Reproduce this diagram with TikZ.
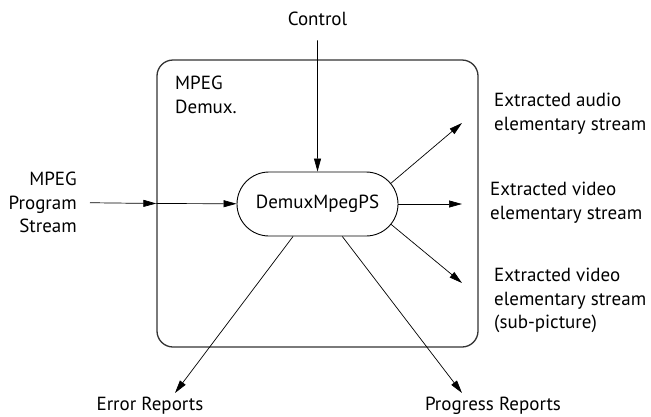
\documentclass[tikz,border=0pt]{standalone}
\usepackage{fontspec}
\setmainfont{PT Sans}
\usetikzlibrary{arrows.meta, shapes.misc, calc}

\begin{document}
\begin{tikzpicture}[x = 1pt, y = -1pt, >={Triangle[length=13pt, width=7pt]},
    every node/.style = {font=\fontsize{19}{23.5}\selectfont},
    txt/.style = {inner sep=0pt},
    arr/.style = {->, line width=0.7pt}]
  \useasboundingbox (0,0) rectangle (651,416);

  \node[draw=black!80, line width=1.3pt, rounded corners=16pt, inner sep=0pt,
        minimum width=321pt, minimum height=287pt] (box) at (317.5,203.5) {};
  \node[txt, anchor=north west, align=left] (title) at (175,76) {MPEG\\Demux.};
  \node[draw, rounded rectangle, line width=0.9pt, inner sep=0pt,
        minimum width=161pt, minimum height=64pt] (demux) at (317.5,204) {DemuxMpegPS};

  \node[txt, anchor=base] (ctrl) at (317.5,25) {Control};
  \node[txt, anchor=north east, align=right] (prog) at (77,172) {MPEG\\Program\\Stream};
  \node[txt, anchor=north west, align=left] (audio) at (494,93) {Extracted audio\\elementary stream};
  \node[txt, anchor=north west, align=left] (video) at (490,182) {Extracted video\\elementary stream};
  \node[txt, anchor=north west, align=left] (subpic) at (494,268) {Extracted video\\elementary stream\\(sub-picture)};
  \node[txt, anchor=base] (err) at (150,410) {Error Reports};
  \node[txt, anchor=base] (progress) at (493,410) {Progress Reports};

  % free ends of the outgoing arrows
  \coordinate (audend) at (462,123);
  \coordinate (vidend) at (462,204);
  \coordinate (subend) at (462,283);
  \coordinate (errend) at (175,393);
  \coordinate (progend) at (462,393);
  \coordinate (capc) at ($(demux.east)+(-32,0)$);

  \path[arr]
    (ctrl) edge [shorten <=15pt] (demux)
    (prog.east) edge [shorten <=13pt] (box.west)
    (box.west) edge (demux)
    ($(capc)!32pt!(audend)$) edge (audend)
    (demux.east) edge (vidend)
    ($(capc)!32pt!(subend)$) edge (subend)
    (demux) edge (errend)
    (demux) edge (progend);
\end{tikzpicture}
\end{document}
